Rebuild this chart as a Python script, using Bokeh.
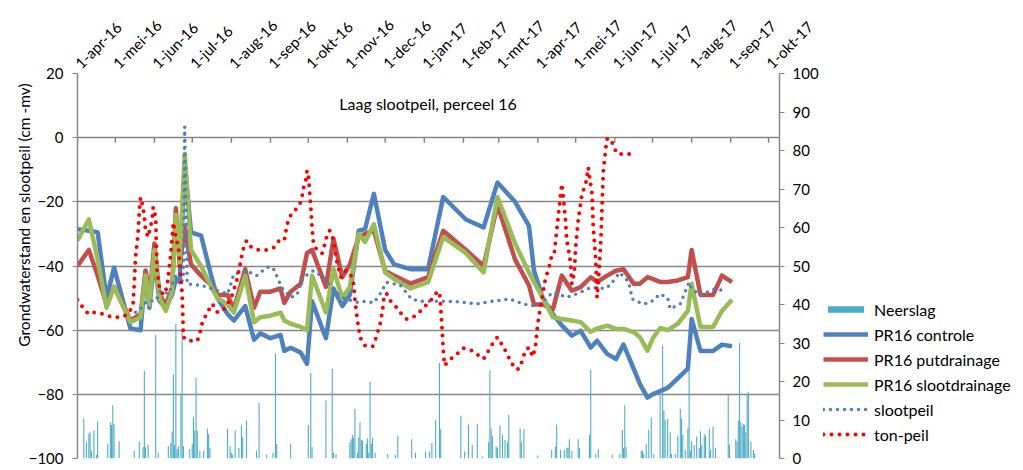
import math
import pandas as pd
from bokeh.plotting import figure
from bokeh.layouts import row
from bokeh.models import (Range1d, LinearAxis, FixedTicker, Legend, LegendItem,
                          Title, Label)
from bokeh.embed import file_html
from bokeh.resources import INLINE

FONT = "Lato"
GRID = "#868686"

# ---------------- data ----------------
month_ticks = ["2016-04-01", "2016-05-01", "2016-06-01", "2016-07-01", "2016-08-01",
               "2016-09-01", "2016-10-01", "2016-11-01", "2016-12-01", "2017-01-01",
               "2017-02-01", "2017-03-01", "2017-04-01", "2017-05-01", "2017-06-01",
               "2017-07-01", "2017-08-01", "2017-09-01", "2017-10-01"]
month_labels = ["1-apr-16", "1-mei-16", "1-jun-16", "1-jul-16", "1-aug-16", "1-sep-16",
                "1-okt-16", "1-nov-16", "1-dec-16", "1-jan-17", "1-feb-17", "1-mrt-17",
                "1-apr-17", "1-mei-17", "1-jun-17", "1-jul-17", "1-aug-17", "1-sep-17",
                "1-okt-17"]
left_ticks = [-100, -80, -60, -40, -20, 0, 20]
right_ticks = [0, 10, 20, 30, 40, 50, 60, 70, 80, 90, 100]

pr_dates = ["2016-04-01", "2016-04-10", "2016-04-17", "2016-04-24", "2016-04-30",
            "2016-05-13", "2016-05-21", "2016-05-25", "2016-05-28", "2016-06-01",
            "2016-06-05", "2016-06-10", "2016-06-15", "2016-06-18", "2016-06-21",
            "2016-06-25", "2016-06-30", "2016-07-08", "2016-07-16", "2016-07-21",
            "2016-07-29", "2016-08-03", "2016-08-12", "2016-08-19", "2016-08-24",
            "2016-09-01", "2016-09-09", "2016-09-12", "2016-09-17", "2016-09-25",
            "2016-09-30", "2016-10-04", "2016-10-15", "2016-10-21", "2016-10-28",
            "2016-11-03", "2016-11-10", "2016-11-15", "2016-11-22", "2016-12-01",
            "2016-12-08", "2016-12-21", "2017-01-04", "2017-01-16", "2017-02-03",
            "2017-02-17", "2017-02-28", "2017-03-14", "2017-03-25", "2017-03-29",
            "2017-04-05", "2017-04-13", "2017-04-20", "2017-04-28", "2017-05-05",
            "2017-05-13", "2017-05-18", "2017-05-26", "2017-06-02", "2017-06-08",
            "2017-06-16", "2017-06-21", "2017-06-27", "2017-07-01", "2017-07-07",
            "2017-07-13", "2017-07-21", "2017-07-29", "2017-08-01", "2017-08-08",
            "2017-08-18", "2017-08-25", "2017-09-02"]
pr16_controle = [-28.5, -29, -29.5, -50, -40.5, -59.5, -60, -41.5, -53, -38,
                 -51, -53, -49, -44, -45, -8, -29.5, -30.5, -43, -50,
                 -55, -57, -52.5, -63, -61, -62.5, -61.5, -66.5, -65.5, -67,
                 -70.5, -51, -62.5, -47, -52.5, -49, -29, -28.5, -17.5, -35,
                 -39.5, -41, -41, -18.5, -25.5, -28, -14, -20, -27.5, -41.5,
                 -50, -55, -58.5, -61.7, -60.2, -65.4, -63.3, -67.4, -69, -64.5,
                 -72, -76.8, -81, -80, -79, -78, -75, -72, -56.5, -66.5,
                 -66.5, -64.5, -65]
pr16_putdrainage = [-40, -35, -43, -52, -46.5, -57, -55, -41.5, -50, -33,
                    -49, -52, -47, -22, -40, -28, -39.5, -43, -46, -49,
                    -49, -53.5, -41, -53, -48, -48, -47, -51.5, -48, -45.5,
                    -36, -35, -46.5, -31.5, -43.5, -39.5, -31, -30, -29, -41.5,
                    -43, -45.5, -43.5, -29, -35, -40, -21, -38, -46, -52,
                    -52, -53.5, -43, -47.7, -46.6, -43.5, -45, -43, -41.5, -41,
                    -45.5, -45.5, -43.5, -44, -45, -45, -44.5, -43.5, -35, -49,
                    -49, -43, -45]
pr16_slootdrainage = [-32, -25.5, -38, -53, -46.5, -57.5, -56, -43, -52, -35,
                      -50, -54, -48, -24, -39, -5, -35, -40, -46.5, -50,
                      -52, -54.5, -43, -57.5, -56, -55.5, -54.5, -57, -58, -59,
                      -60, -43, -54.5, -41, -50, -46.5, -30, -32.5, -27, -42,
                      -44, -47, -45, -31, -36, -42, -18.5, -33, -42, -45,
                      -50, -56, -56.5, -57, -57.5, -60.5, -59.5, -58.6, -59.6, -59.6,
                      -60.6, -62.2, -66.4, -62.7, -59.3, -60, -58, -54, -45.5, -59,
                      -59, -54, -50.5]

sloot_dates = ["2016-05-17", "2016-05-22", "2016-05-26", "2016-06-02", "2016-06-06",
               "2016-06-12", "2016-06-18", "2016-06-21", "2016-06-24", "2016-06-25",
               "2016-06-27", "2016-07-08", "2016-07-21", "2016-07-29", "2016-08-03",
               "2016-08-13", "2016-08-21", "2016-08-29", "2016-09-03", "2016-09-10",
               "2016-09-17", "2016-09-22", "2016-09-27", "2016-10-05", "2016-10-13",
               "2016-10-21", "2016-10-29", "2016-11-09", "2016-11-15", "2016-11-22",
               "2016-11-27", "2016-12-02", "2016-12-13", "2016-12-22", "2016-12-29",
               "2017-01-05", "2017-01-16", "2017-01-29", "2017-02-12", "2017-02-24",
               "2017-03-10", "2017-03-20", "2017-03-27", "2017-04-03", "2017-04-13",
               "2017-04-24", "2017-05-05", "2017-05-13", "2017-05-25", "2017-05-29",
               "2017-06-05", "2017-06-12", "2017-06-15", "2017-06-23", "2017-06-29",
               "2017-07-07", "2017-07-13", "2017-07-15", "2017-07-23", "2017-07-30",
               "2017-08-01", "2017-08-08", "2017-08-18", "2017-08-29"]
slootpeil = [-54.4, -53, -51, -50.8, -47.7, -48.7, -43, -45.6, -44, 3.4,
             -45.6, -46, -47.7, -48.7, -42.5, -41.5, -43, -40.4, -40.5, -46.7,
             -49.8, -49, -43.5, -41.5, -43.5, -47.7, -50, -51.3, -51, -51.5,
             -48.7, -45.1, -46, -50.3, -51, -51, -51, -51.2, -51.8, -51,
             -50.3, -51.8, -52.4, -51.7, -48.2, -49.8, -48.2, -46.7, -47, -45.6,
             -42, -45, -50.3, -51.8, -51.5, -48.7, -50, -53.4, -51.8, -45.1,
             -47, -49.2, -47.2, -47.7]

ton_dates = ["2016-04-01", "2016-04-06", "2016-04-10", "2016-04-15", "2016-04-22",
             "2016-04-29", "2016-05-05", "2016-05-11", "2016-05-15", "2016-05-16",
             "2016-05-17", "2016-05-19", "2016-05-20", "2016-05-21", "2016-05-23",
             "2016-05-24", "2016-05-25", "2016-05-27", "2016-05-30", "2016-05-31",
             "2016-06-02", "2016-06-03", "2016-06-05", "2016-06-08", "2016-06-11",
             "2016-06-14", "2016-06-16", "2016-06-18", "2016-06-20", "2016-06-23",
             "2016-06-24", "2016-06-27", "2016-07-05", "2016-07-07", "2016-07-09",
             "2016-07-13", "2016-07-17", "2016-07-21",
             "2016-07-25", "2016-07-29", "2016-08-02", "2016-08-06", "2016-08-10",
             "2016-08-13", "2016-08-17", "2016-08-23", "2016-08-29", "2016-09-04",
             "2016-09-08", "2016-09-12", "2016-09-14", "2016-09-16", "2016-09-20",
             "2016-09-24", "2016-09-26", "2016-09-27", "2016-09-29", "2016-09-30",
             "2016-10-01", "2016-10-02", "2016-10-03", "2016-10-04", "2016-10-05",
             "2016-10-06", "2016-10-08", "2016-10-12", "2016-10-15", "2016-10-16",
             "2016-10-18", "2016-10-20", "2016-10-21", "2016-10-24", "2016-10-27",
             "2016-10-31", "2016-11-03", "2016-11-06", "2016-11-07", "2016-11-09",
             "2016-11-11", "2016-11-15", "2016-11-21", "2016-11-23", "2016-11-25",
             "2016-11-27", "2016-11-29", "2016-11-30", "2016-12-02", "2016-12-05",
             "2016-12-09", "2016-12-14", "2016-12-18", "2016-12-23", "2016-12-28",
             "2017-01-02", "2017-01-06", "2017-01-11", "2017-01-13", "2017-01-14",
             "2017-01-15", "2017-01-16", "2017-01-17", "2017-01-22", "2017-01-27",
             "2017-02-01", "2017-02-07", "2017-02-12", "2017-02-17", "2017-02-24",
             "2017-02-28", "2017-03-05", "2017-03-10", "2017-03-14", "2017-03-17",
             "2017-03-20", "2017-03-22", "2017-03-25", "2017-03-28", "2017-03-30",
             "2017-04-01", "2017-04-03", "2017-04-05", "2017-04-07", "2017-04-10",
             "2017-04-12", "2017-04-14", "2017-04-16", "2017-04-18", "2017-04-20",
             "2017-04-21", "2017-04-23", "2017-04-24", "2017-04-26", "2017-04-27",
             "2017-04-28", "2017-04-30", "2017-05-01", "2017-05-03", "2017-05-06",
             "2017-05-09", "2017-05-11", "2017-05-14", "2017-05-15", "2017-05-17",
             "2017-05-18", "2017-05-19", "2017-05-21", "2017-05-22", "2017-05-23",
             "2017-05-25", "2017-05-26", "2017-05-29", "2017-05-31", "2017-06-03",
             "2017-06-10", "2017-06-16"]
ton_peil = [-50.5, -53.4, -55, -54.4, -55,
            -56, -56, -55, -52.4, -45.6,
            -37.3, -30, -22.8, -18.6, -21.7,
            -24.8, -29, -31, -25.9, -21.7,
            -24.8, -41.5, -46.7, -49, -46.7,
            -36, -26.4, -31, -34.2, -48.7,
            -62.2, -63.3, -63.3, -61, -57.6,
            -54.4, -51.8, -54.4,
            -54, -52, -48.7, -43.5, -35.2,
            -32.1, -34.2, -35, -35, -34.2,
            -32, -32, -27.4, -24.8, -22.8,
            -21.2, -18.6, -16, -13.4, -10.3,
            -11, -16.5, -21.7, -28, -32.6,
            -33.7, -35.2, -36, -32, -30,
            -29, -30.5, -32.6, -39.4, -43.5,
            -41.5, -42, -45.6, -50.8, -57,
            -62.2, -64.8, -65.1, -63.3, -60.7,
            -58, -53.4, -49.8, -48.5, -50.8,
            -52.4, -55, -56.5, -56, -54.4,
            -52.4, -50.8, -48.2, -48, -52.9,
            -59, -66, -71, -69, -67.4,
            -65.6, -66.2, -67.6, -69, -64.3,
            -62.2, -65.4, -69.3, -72.1, -72.1,
            -69.3, -66.4, -65.4, -68.3, -65.4,
            -58, -52.9, -48.7, -44, -40.4,
            -36.8, -36.3, -29, -21.7, -14.4,
            -17.6, -25.9, -32.1, -36.3, -39.4,
            -45.6, -42, -34.2, -25.9, -17.6,
            -14.4, -9.3, -17.6, -28, -38.3,
            -49.8, -45, -32, -20.7, -10.3,
            -3, -0.4, -0.4, -2.8, -5.1,
            -5.1, -5.1]

rain_dates = ["2016-04-06", "2016-04-08", "2016-04-10", "2016-04-11", "2016-04-12",
              "2016-04-14", "2016-04-16", "2016-04-17", "2016-04-25", "2016-04-27",
              "2016-04-28", "2016-04-29", "2016-04-30", "2016-05-04", "2016-05-16",
              "2016-05-20", "2016-05-23", "2016-05-24", "2016-05-25", "2016-05-27",
              "2016-06-02", "2016-06-04", "2016-06-12", "2016-06-14", "2016-06-15",
              "2016-06-16", "2016-06-17", "2016-06-18", "2016-06-19", "2016-06-20",
              "2016-06-22", "2016-06-23", "2016-06-24", "2016-06-29", "2016-07-01",
              "2016-07-02", "2016-07-03", "2016-07-04", "2016-07-05", "2016-07-07",
              "2016-07-10", "2016-07-13", "2016-07-14", "2016-07-15", "2016-07-29",
              "2016-07-31", "2016-08-01", "2016-08-02", "2016-08-04", "2016-08-07",
              "2016-08-09", "2016-08-10", "2016-08-13", "2016-08-21", "2016-08-23",
              "2016-08-29", "2016-09-03", "2016-09-05", "2016-09-06", "2016-09-17",
              "2016-10-01", "2016-10-03", "2016-10-04", "2016-10-15", "2016-10-20",
              "2016-10-21", "2016-10-23", "2016-11-03", "2016-11-04", "2016-11-05",
              "2016-11-06", "2016-11-07", "2016-11-09", "2016-11-10", "2016-11-11",
              "2016-11-12", "2016-11-13", "2016-11-16", "2016-11-17", "2016-11-18",
              "2016-11-19", "2016-11-20", "2016-11-21", "2016-11-23", "2016-12-03",
              "2016-12-09", "2016-12-11", "2016-12-22", "2016-12-25", "2017-01-02",
              "2017-01-05", "2017-01-07", "2017-01-10", "2017-01-13", "2017-01-14",
              "2017-01-30", "2017-02-02", "2017-02-05", "2017-02-08", "2017-02-12",
              "2017-02-16", "2017-02-21", "2017-02-22", "2017-02-23", "2017-02-24",
              "2017-02-27", "2017-02-28", "2017-03-02", "2017-03-04", "2017-03-06",
              "2017-03-08", "2017-03-09", "2017-03-18", "2017-03-19", "2017-03-21",
              "2017-04-01", "2017-04-12", "2017-04-15", "2017-04-16", "2017-04-19",
              "2017-04-22", "2017-04-24", "2017-04-25", "2017-04-26", "2017-04-28",
              "2017-05-03", "2017-05-04", "2017-05-12", "2017-05-13", "2017-05-17",
              "2017-05-19", "2017-05-30", "2017-06-05", "2017-06-07", "2017-06-08",
              "2017-06-09", "2017-06-10", "2017-06-22", "2017-06-23", "2017-06-24",
              "2017-06-26", "2017-06-28", "2017-06-30", "2017-07-02", "2017-07-07",
              "2017-07-09", "2017-07-10", "2017-07-11", "2017-07-13", "2017-07-15",
              "2017-07-16", "2017-07-19", "2017-07-21", "2017-07-23", "2017-07-24",
              "2017-07-25", "2017-07-27", "2017-07-29", "2017-07-30", "2017-07-31",
              "2017-08-01", "2017-08-03", "2017-08-05", "2017-08-07", "2017-08-08",
              "2017-08-09", "2017-08-11", "2017-08-12", "2017-08-15", "2017-08-16",
              "2017-08-18", "2017-08-20", "2017-08-30", "2017-08-31", "2017-09-05",
              "2017-09-06", "2017-09-07", "2017-09-08", "2017-09-09", "2017-09-10",
              "2017-09-11", "2017-09-12", "2017-09-13", "2017-09-14", "2017-09-15",
              "2017-09-17", "2017-09-19", "2017-09-20"]
neerslag = [10.4, 4.2, 6.5, 6.8, 2,
            7.3, 1, 9.6, 3.8, 9.4,
            8.7, 13.8, 8.9, 4.4, 2,
            4.4, 3, 22.7, 3, 3.6,
            32.1, 1.5, 3.2, 4, 7,
            21.8, 3.5, 35, 2.5, 3.2,
            16.4, 33.2, 3.2, 2.5, 3.8,
            10.7, 7.2, 20.9, 7.2, 2,
            2, 7.8, 6.3, 2.8, 7.8,
            3.2, 1.5, 1, 7.3, 2.7,
            8.5, 5.5, 9.9, 2, 14.5,
            1, 1.5, 27.2, 3.8, 3.8,
            8.7, 22.2, 3, 15.1, 23.3,
            1.5, 1.2, 4.2, 5, 6.1,
            5.3, 12.9, 1.5, 5.5, 9.4,
            4.8, 4.6, 3.8, 5.2, 1.5,
            20, 3.8, 5.4, 1.5, 1.2,
            1, 6, 5, 1.5, 1.8,
            1.8, 4, 10, 24.8, 7.6,
            11.1, 1.8, 8.8, 3.6, 9,
            0.5, 4.2, 22.9, 7.8, 5.8,
            3.2, 2.8, 8.6, 6.2, 4.8,
            4.2, 11.3, 7.7, 4.2, 7.6,
            0.8, 2.2, 3.1, 8.8, 2.3,
            2.3, 2.8, 2.8, 5, 2,
            5, 2.7, 6.2, 23, 1.2,
            2.5, 1, 1.2, 7.5, 2.7,
            13.8, 3, 2, 2, 1.2,
            3.8, 7.5, 10.6, 1.2, 16.8,
            29.2, 12.5, 10, 10.3, 6.8,
            1.2, 1.2, 6, 12.9, 10.4,
            6.2, 2.2, 7.8, 23.5, 2,
            4.5, 3.5, 5.7, 2.7, 7.1,
            3.5, 6.3, 5.8, 7.8, 2.2,
            8.3, 2.7, 16.5, 3.5, 5,
            4.5, 9.9, 30, 9.4, 8.3,
            9, 8.7, 6.8, 16.8, 17.2,
            4.4, 2.2, 1.2]

series_names = ["Neerslag", "PR16 controle", "PR16 putdrainage", "PR16 slootdrainage",
                "slootpeil", "ton-peil"]


def to_ms(dates):
    s = pd.to_datetime(pd.Series(dates), format="ISO8601")
    return ((s - pd.Timestamp("1970-01-01")) / pd.Timedelta(milliseconds=1)).tolist()


# styles
RAIN_C = "#4BACC6"
STY_CON = dict(line_color="#4F81BD", line_width=4.5, line_join="round")
STY_PUT = dict(line_color="#C0504D", line_width=4.5, line_join="round")
STY_SD = dict(line_color="#9BBB59", line_width=4.5, line_join="round")
STY_SP = dict(line_color="#4F81BD", line_width=3.5, line_dash="0 7",
              line_cap="round", line_join="round")
STY_TON = dict(line_color="#FF0000", line_width=4, line_dash="0 8",
               line_cap="round", line_join="round")

tick_ms = to_ms(month_ticks)
x_start, x_end = to_ms(["2016-04-01T00:00:00", "2017-10-09T16:00:00"])
rain_ms = to_ms(rain_dates)
pr_ms = to_ms(pr_dates)
sloot_ms = to_ms(sloot_dates)
ton_ms = to_ms(ton_dates)

p = figure(width=823, height=470, x_axis_type="datetime", x_axis_location="above",
           x_range=Range1d(x_start, x_end), y_range=Range1d(-100, 20),
           output_backend="svg", toolbar_location=None, title=None,
           min_border_left=77, min_border_top=73, min_border_right=44,
           min_border_bottom=12)
p.outline_line_color = None
p.background_fill_color = "white"
p.border_fill_color = "white"

p.extra_y_ranges = {"rain": Range1d(0, 100)}

# top date axis (labels only)
xa = p.xaxis[0]
xa.ticker = FixedTicker(ticks=tick_ms)
xa.major_label_overrides = {t: lab for t, lab in zip(tick_ms, month_labels)}
xa.major_label_orientation = math.pi / 4
xa.major_tick_out = 0
xa.major_tick_in = 0
xa.minor_tick_out = 0
xa.minor_tick_in = 0
xa.axis_line_color = None
xa.major_label_standoff = 8
xa.major_label_text_font = FONT
xa.major_label_text_font_size = "15px"
xa.major_label_text_color = "black"
p.xgrid.visible = False

ya = p.yaxis[0]
ya.ticker = FixedTicker(ticks=left_ticks)
ya.major_tick_out = 5
ya.major_tick_in = 0
ya.minor_tick_out = 0
ya.minor_tick_in = 0
ya.major_label_standoff = 9
ya.axis_line_color = GRID
ya.axis_line_width = 1.5
ya.major_tick_line_color = GRID
ya.major_label_text_font = FONT
ya.major_label_text_font_size = "15px"
ya.major_label_text_color = "black"
p.ygrid.ticker = FixedTicker(ticks=left_ticks)
p.ygrid.grid_line_color = GRID
p.ygrid.grid_line_width = 1.5

ra = LinearAxis(y_range_name="rain", ticker=FixedTicker(ticks=right_ticks))
ra.major_tick_out = 5
ra.major_tick_in = 0
ra.minor_tick_out = 0
ra.minor_tick_in = 0
ra.major_label_standoff = 8
ra.axis_line_color = GRID
ra.axis_line_width = 1.5
ra.major_tick_line_color = GRID
ra.major_label_text_font = FONT
ra.major_label_text_font_size = "15px"
ra.major_label_text_color = "black"
p.add_layout(ra, "right")

p.add_layout(Title(text="Grondwaterstand en slootpeil (cm  -mv)", align="right",
                   standoff=-14, offset=6, text_font=FONT, text_font_size="15.5px",
                   text_font_style="normal", text_color="black"), "left")

# date-axis tick marks on the 0 line
n = len(tick_ms)
p.segment(x0=tick_ms, y0=[0] * n, x1=tick_ms, y1=[-1.6] * n,
          line_color=GRID, line_width=1.5)

p.vbar(x=rain_ms, top=neerslag, bottom=0, width=0.85 * 86400000,
       y_range_name="rain", fill_color=RAIN_C, line_color=None)

p.line(pr_ms, pr16_controle, **STY_CON)
p.line(pr_ms, pr16_putdrainage, **STY_PUT)
p.line(pr_ms, pr16_slootdrainage, **STY_SD)
p.line(sloot_ms, slootpeil, **STY_SP)
p.line(ton_ms, ton_peil, **STY_TON)

title_x = to_ms(["2017-01-04"])[0]
p.add_layout(Label(x=title_x, y=10.6, text="Laag slootpeil, perceel 16",
                   text_align="center", text_baseline="middle", text_font=FONT,
                   text_font_size="16px", text_color="black"))

# ---- legend panel (separate figure to the right of the chart) ----
# the same series are drawn here outside the (tiny) visible ranges, so that
# only their legend entries show.
pl = figure(width=200, height=470, x_range=Range1d(0, 1), y_range=Range1d(0, 1),
            x_axis_location=None, y_axis_location=None, output_backend="svg",
            toolbar_location=None, title=None, min_border=0)
pl.outline_line_color = None
pl.grid.visible = False
lr = [pl.vbar(x=rain_ms, top=neerslag, width=86400000, fill_color=RAIN_C,
              line_color=None),
      pl.line(pr_ms, pr16_controle, **STY_CON),
      pl.line(pr_ms, pr16_putdrainage, **STY_PUT),
      pl.line(pr_ms, pr16_slootdrainage, **STY_SD),
      pl.line(sloot_ms, slootpeil, **STY_SP),
      pl.line(ton_ms, ton_peil, **STY_TON)]
legend = Legend(items=[LegendItem(label=nm, renderers=[r])
                       for nm, r in zip(series_names, lr)],
                location=(0, 14))
legend.border_line_color = None
legend.background_fill_alpha = 0
legend.glyph_width = 45
legend.glyph_height = 8
legend.label_height = 20
legend.spacing = 5
legend.padding = 4
legend.margin = 0
legend.label_standoff = 6
legend.label_text_font = FONT
legend.label_text_font_size = "16px"
legend.label_text_color = "black"
pl.add_layout(legend)

layout = row(p, pl)
open("out.html", "w").write(file_html(layout, INLINE))
